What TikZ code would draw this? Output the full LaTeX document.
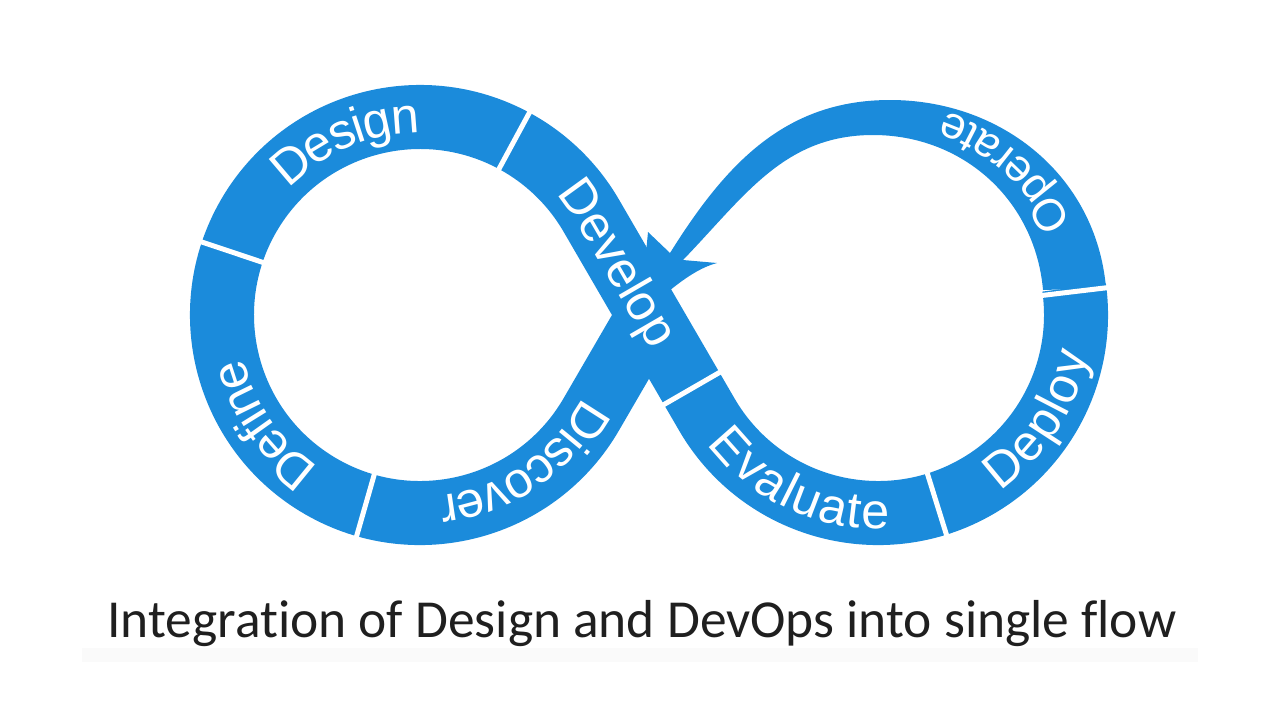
\documentclass[tikz,border=0pt]{standalone}
\usepackage{fontspec}
\setsansfont{Liberation Sans}
\newfontfamily\captionfont[Ligatures=NoCommon]{Carlito}
\usetikzlibrary{calc,decorations.text}
\definecolor{loopblue}{RGB}{27,139,219}
\newcommand\stepfont{\sffamily\fontsize{14.3}{14.3}\selectfont\color{white}}
\newcommand\smallstepfont{\sffamily\fontsize{12.8}{12.8}\selectfont\color{white}}

\begin{document}
\begin{tikzpicture}[x=0.01cm,y=0.01cm,
    band/.style={loopblue,line width=0.64cm},
    divider/.style={white,line width=0.05cm},
    steplabel/.style={decorate,decoration={text along path,text align=center,raise=-4.5pt,text={|\stepfont|#1}}},
    smallsteplabel/.style={decorate,decoration={text along path,text align=center,raise=-4pt,text={|\smallstepfont|#1}}}]
  \useasboundingbox (0,0) rectangle (1280,720);
  \coordinate (L) at (420,405);
  \coordinate (R) at (878,405);
  \coordinate (X) at (649,405);

  % main band: discover, define, design, develop, evaluate, deploy
  \draw[band] (X) -- ([shift={(-30:198)}]L)
    arc[start angle=-30,end angle=-330,radius=198] -- (X)
    -- ([shift={(210:198)}]R) arc[start angle=210,end angle=368,radius=198];

  % operate: thinning band ending in the arrow head
  \fill[loopblue] (1106,432) to[out=95,in=0] (890,620) to[out=180,in=58] (670,467)
    -- (648,488) -- (640,405) .. controls (665,425) and (690,450) .. (717,457) -- (683,460)
    to[out=46,in=180] (873,585) to[out=0,in=95] (1043,430) -- cycle;

  \foreach \a in {161.5,61.6,-106}
    \draw[divider] ([shift={(\a:156)}]L) -- ([shift={(\a:240)}]L);
  \foreach \a in {-72.7,6.8}
    \draw[divider] ([shift={(\a:156)}]R) -- ([shift={(\a:240)}]R);
  \coordinate (DE) at ($(X)+(-60:85)$);
  \draw[divider] ($(DE)+(30:36)$) -- ($(DE)+(210:36)$);

  \path[steplabel=Define] ([shift={(-115:198)}]L) arc[start angle=-115,end angle=-175,radius=198];
  \path[steplabel=Design] ([shift={(150:198)}]L) arc[start angle=150,end angle=76,radius=198];
  \path[steplabel=Develop] ([shift={(45:198)}]L) arc[start angle=45,end angle=30,radius=198] -- (671.5,366);
  \path[steplabel=Discover] (606.5,332) -- ([shift={(-30:198)}]L) arc[start angle=-30,end angle=-90,radius=198];
  \path[steplabel=Evaluate] ([shift={(212:198)}]R) arc[start angle=212,end angle=278,radius=198];
  \path[steplabel=Deploy] ([shift={(-65:198)}]R) arc[start angle=-65,end angle=-1,radius=198];
  \path[smallsteplabel=Operate] ([shift={(15:200)}]R) arc[start angle=15,end angle=82,radius=200];

  \fill[black!2] (82,58) rectangle (1198,72);
  \node[anchor=base,font=\captionfont\fontsize{15.2}{15.2}\selectfont,text=black!88] (caption) at (642,83) {Integration of Design and DevOps into single flow};
\end{tikzpicture}
\end{document}
